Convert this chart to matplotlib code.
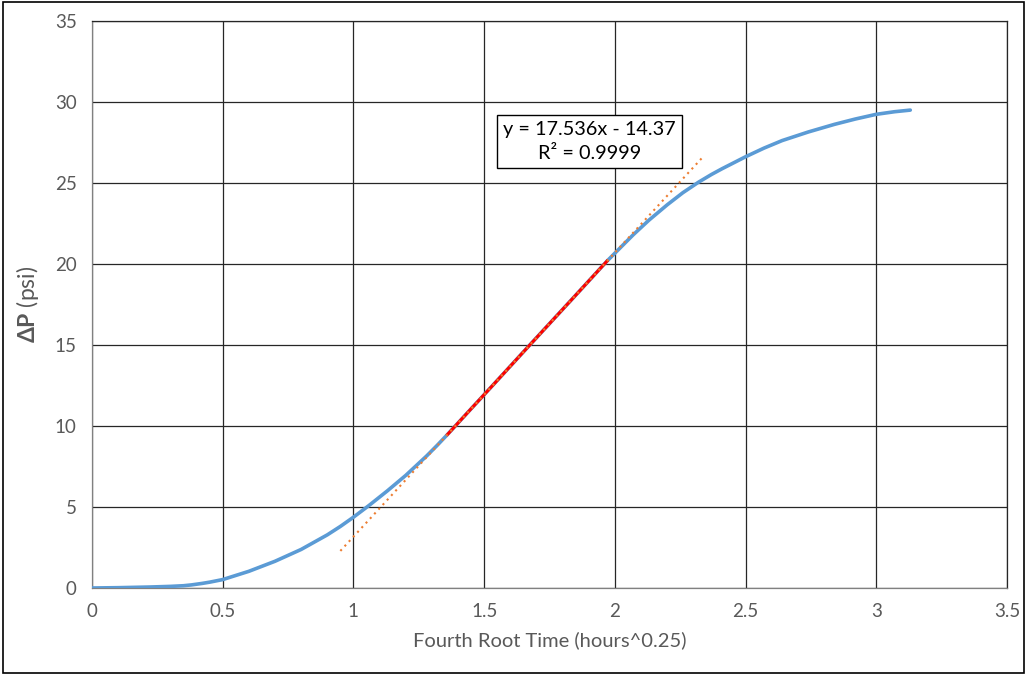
import matplotlib
matplotlib.use("Agg")
import matplotlib.pyplot as plt
from matplotlib.patches import Rectangle
import numpy as np

plt.rcParams['font.family'] = ['Lato', 'DejaVu Sans']
plt.rcParams['mathtext.fontset'] = 'custom'
plt.rcParams['mathtext.rm'] = 'Lato'
plt.rcParams['mathtext.bf'] = 'Lato:bold'

# Fourth-root time (hours^0.25) and pressure change (psi)
root_time = [0.00, 0.10, 0.22, 0.30, 0.35, 0.38, 0.42, 0.45, 0.50, 0.60,
             0.70, 0.80, 0.90, 0.95, 1.00, 1.06, 1.13, 1.20, 1.28, 1.32,
             1.36, 1.45, 1.55, 1.65, 1.75, 1.85, 1.97, 2.07, 2.13, 2.20,
             2.26, 2.32, 2.37, 2.41, 2.50, 2.57, 2.64, 2.74, 2.84, 2.92,
             3.00, 3.07, 3.13]
delta_p = [0.00, 0.02, 0.06, 0.10, 0.14, 0.19, 0.28, 0.36, 0.52, 1.03,
           1.65, 2.38, 3.28, 3.80, 4.37, 5.10, 6.00, 6.95, 8.15, 8.80,
           9.48, 11.06, 12.81, 14.57, 16.32, 18.07, 20.18, 21.80, 22.70, 23.65,
           24.40, 25.05, 25.53, 25.88, 26.62, 27.15, 27.62, 28.15, 28.62, 28.95,
           29.24, 29.40, 29.50]

# Linear-fit window and fitted trendline
fit_start, fit_end = 1.36, 1.97
slope, intercept = 17.536, -14.37
r_squared = 0.9999
trend_range = [0.95, 2.34]

x_ticks = [0, 0.5, 1, 1.5, 2, 2.5, 3, 3.5]
y_ticks = [0, 5, 10, 15, 20, 25, 30, 35]

fig = plt.figure(figsize=(10.28, 6.75), dpi=100)
ax = fig.add_axes([92 / 1028, 1 - 588 / 675, (1007 - 92) / 1028, (588 - 21) / 675])

x = np.array(root_time)
y = np.array(delta_p)

ax.plot(x, y, color='#5B9BD5', lw=2.6, solid_capstyle='round',
        solid_joinstyle='round', zorder=3)

mask = (x >= fit_start - 1e-9) & (x <= fit_end + 1e-9)
ax.plot(x[mask], y[mask], color='#FF0000', lw=2.2, zorder=4)

tx = np.array(trend_range)
ax.plot(tx, slope * tx + intercept, color='#ED7D31', lw=1.5,
        linestyle=(0, (1, 2)), zorder=5)

ax.text(1.903, 27.56, f"y = {slope}x - {abs(intercept)}\nR² = {r_squared}",
        ha='center', va='center', fontsize=14.3, color='black',
        linespacing=1.45, zorder=6,
        bbox=dict(boxstyle='square,pad=0.32', fc='white', ec='black', lw=1))

ax.set_xlim(0, 3.5)
ax.set_ylim(0, 35)
ax.set_xticks(x_ticks)
ax.set_xticklabels([f"{t:g}" for t in x_ticks])
ax.set_yticks(y_ticks)
ax.grid(True, color='#262626', lw=0.9)
ax.set_axisbelow(True)
for side in ['top', 'right', 'bottom', 'left']:
    ax.spines[side].set_color('#262626')
    ax.spines[side].set_linewidth(0.9)
ax.spines['left'].set_color('#808080')
ax.spines['bottom'].set_color('#808080')
ax.tick_params(length=0, labelsize=13.5, colors='#595959', pad=11)

ax.set_xlabel("Fourth Root Time (hours^0.25)", fontsize=14.5, color='#595959', labelpad=8)
ax.set_ylabel(r"$\mathbf{\Delta P}$ (psi)", fontsize=16.5, color='#595959', labelpad=10)

fig.patches.append(Rectangle((3 / 1028, 2 / 675), (1024 - 3) / 1028, (673 - 2) / 675,
                             transform=fig.transFigure, fill=False,
                             ec='black', lw=1.2))

fig.savefig("out.png", dpi=100)
